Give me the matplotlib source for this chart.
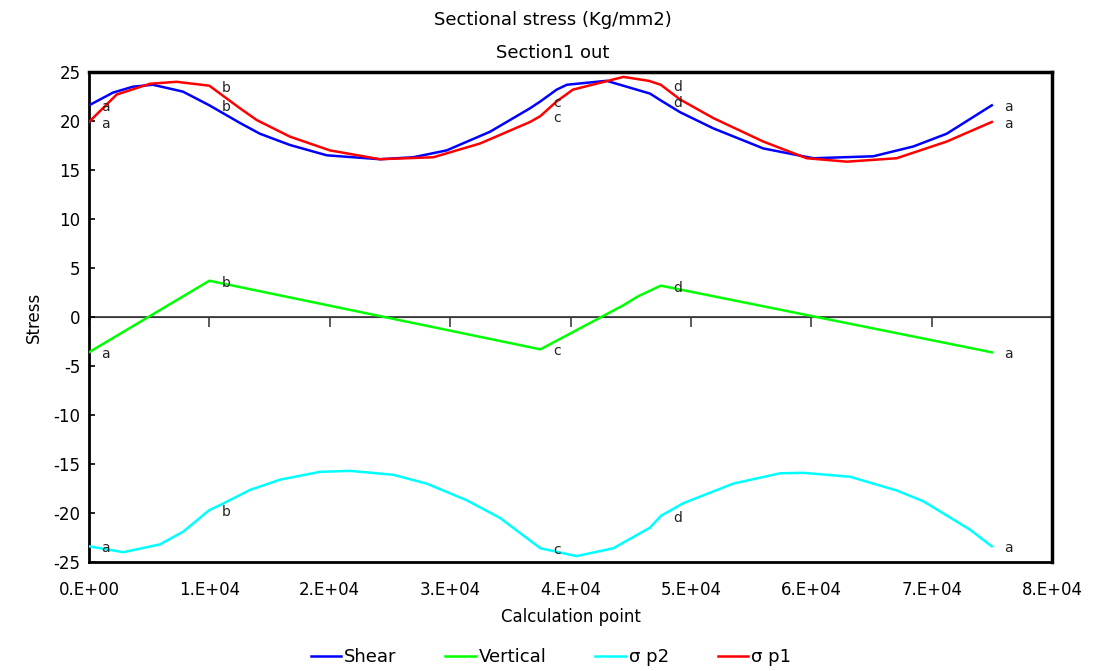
import numpy as np
import matplotlib
matplotlib.use("Agg")
import matplotlib.pyplot as plt

plt.rcParams['font.family'] = ['DejaVu Sans']

# ---- data ----
shear_x = [0, 2000, 3650, 5300, 7800, 10000, 12540, 14200, 16700, 19750, 24170, 26940, 29710,
           33310, 36640, 37500, 38850, 39700, 43000, 46600, 47500, 49100, 51860, 56020, 60170,
           65160, 68480, 71250, 75000]
shear_y = [21.6, 22.9, 23.5, 23.7, 23.0, 21.6, 19.8, 18.7, 17.55, 16.5, 16.1, 16.3, 17.0,
           18.9, 21.3, 22.0, 23.2, 23.7, 24.1, 22.8, 22.1, 20.9, 19.25, 17.2, 16.2,
           16.4, 17.4, 18.7, 21.6]

vert_x = [0, 10000, 37500, 44400, 45600, 47500, 75000]
vert_y = [-3.6, 3.7, -3.3, 1.2, 2.1, 3.2, -3.6]

p2_x = [0, 2850, 5900, 7830, 10000, 10880, 13370, 15870, 19190, 21680, 25280, 28050, 31380,
        34140, 37500, 40500, 43550, 46600, 47500, 49370, 53530, 57400, 59340, 63220, 67100,
        69310, 73190, 75000]
p2_y = [-23.4, -24.0, -23.2, -21.9, -19.7, -19.2, -17.65, -16.6, -15.8, -15.7, -16.1, -17.0, -18.7,
        -20.5, -23.6, -24.4, -23.6, -21.5, -20.3, -19.0, -17.0, -15.95, -15.9, -16.3, -17.7,
        -18.8, -21.7, -23.4]

p1_x = [0, 2300, 5070, 7280, 10000, 12540, 13930, 16700, 20020, 24170, 28600, 32480, 36640,
        37500, 38850, 40200, 44400, 46500, 47500, 49100, 51860, 56020, 59620, 62950, 67100,
        71250, 75000]
p1_y = [19.9, 22.7, 23.8, 24.0, 23.6, 21.3, 20.1, 18.4, 17.0, 16.1, 16.3, 17.7, 19.9,
        20.5, 22.0, 23.2, 24.5, 24.1, 23.7, 22.2, 20.3, 17.9, 16.2, 15.85, 16.2,
        17.9, 19.9]

mark_x = [0, 10000, 37500, 47500, 75000]
mark_labels = ['a', 'b', 'c', 'd', 'a']

x_ticks = [0, 10000, 20000, 30000, 40000, 50000, 60000, 70000, 80000]
x_ticklabels = ['0.E+00', '1.E+04', '2.E+04', '3.E+04', '4.E+04', '5.E+04', '6.E+04', '7.E+04', '8.E+04']
y_ticks = [-25, -20, -15, -10, -5, 0, 5, 10, 15, 20, 25]

series = [
    ('Shear', shear_x, shear_y, '#0000FF'),
    ('Vertical', vert_x, vert_y, '#00FF00'),
    ('σ p2', p2_x, p2_y, '#00FFFF'),
    ('σ p1', p1_x, p1_y, '#FF0000'),
]

fig = plt.figure(figsize=(10.93, 6.71), dpi=100)
ax = fig.add_axes([89/1093, 1 - 562/671, (1052-89)/1093, (562-72)/671])

ax.axhline(0, color='#404040', lw=1.3, zorder=1)

for name, xs, ys, c in series:
    ax.plot(xs, ys, color=c, lw=1.8, label=name, zorder=3)
    for mx, lab in zip(mark_x, mark_labels):
        if mx in xs:
            i = xs.index(mx)
            ax.annotate(lab, (xs[i], ys[i]), xytext=(9, -1.5), textcoords='offset points',
                        ha='left', va='center', fontsize=10, color='#222222', zorder=4)

ax.set_xlim(0, 80000)
ax.set_ylim(-25, 25)
ax.set_xticks(x_ticks)
ax.set_xticklabels(x_ticklabels, fontsize=12)
ax.tick_params(axis='x', length=0, pad=14)
ax.set_yticks(y_ticks)
ax.set_yticklabels([str(v) for v in y_ticks], fontsize=12)
ax.tick_params(axis='y', direction='in', length=4, width=1.2, pad=6)

# tick marks on the zero line
sec = ax.secondary_xaxis(0.5)
sec.set_xticks(x_ticks)
sec.tick_params(axis='x', direction='in', length=7, width=1.2, color='#404040', labelbottom=False)
sec.set_xticklabels([])
sec.spines['bottom'].set_visible(False)

for s in ['left', 'bottom']:
    ax.spines[s].set_linewidth(2)
    ax.spines[s].set_color('black')
for s in ['top', 'right']:
    ax.spines[s].set_linewidth(2.5)
    ax.spines[s].set_color('black')

ax.set_xlabel('Calculation point', fontsize=12, labelpad=6)
ax.set_ylabel('Stress', fontsize=12, labelpad=8)

fig.text(0.506, 1 - 20/671, 'Sectional stress (Kg/mm2)', ha='center', va='center', fontsize=13)
fig.text(0.506, 1 - 53/671, 'Section1 out', ha='center', va='center', fontsize=13)

fig.legend(loc='center', bbox_to_anchor=(0.504, 1 - 657/671), ncol=4, frameon=False,
           fontsize=13, handlelength=1.7, handletextpad=0.15, columnspacing=2.7)

fig.savefig('out.png', dpi=100, facecolor='white')
